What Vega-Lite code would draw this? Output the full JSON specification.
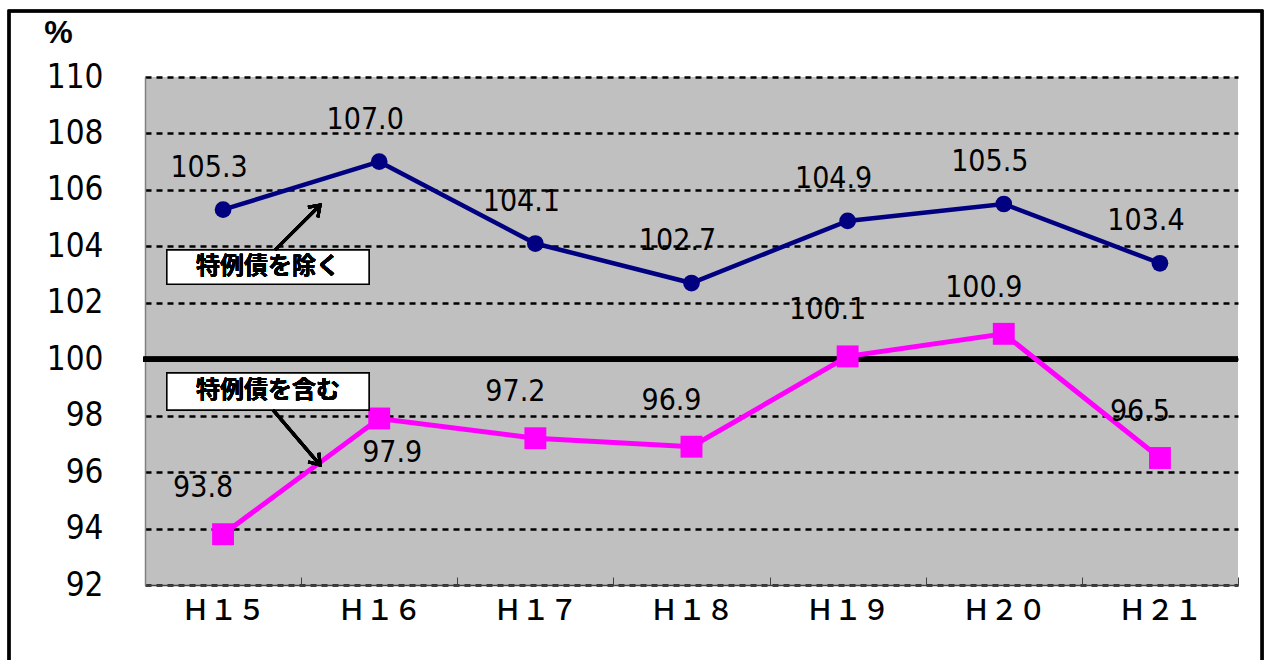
{
  "$schema": "https://vega.github.io/schema/vega-lite/v6.json",
  "width": 1093,
  "height": 508,
  "autosize": {"type": "none"},
  "padding": {"left": 145, "top": 77, "right": 26, "bottom": 75},
  "background": "white",
  "config": {
    "view": {"fill": "#C0C0C0", "stroke": null},
    "font": "DejaVu Sans Condensed, Liberation Sans, sans-serif",
    "axisY": {"gridColor": "black", "gridOpacity": 1, "gridDash": [6, 5], "gridWidth": 2.5}
  },
  "data": {
    "values": [
      {"i": 0, "year": "H15", "excl": 105.3, "incl": 93.8},
      {"i": 1, "year": "H16", "excl": 107.0, "incl": 97.9},
      {"i": 2, "year": "H17", "excl": 104.1, "incl": 97.2},
      {"i": 3, "year": "H18", "excl": 102.7, "incl": 96.9},
      {"i": 4, "year": "H19", "excl": 104.9, "incl": 100.1},
      {"i": 5, "year": "H20", "excl": 105.5, "incl": 100.9},
      {"i": 6, "year": "H21", "excl": 103.4, "incl": 96.5}
    ]
  },
  "encoding": {
    "x": {
      "field": "i",
      "type": "quantitative",
      "scale": {"domain": [-0.5, 6.5], "nice": false, "zero": false},
      "axis": {
        "title": null,
        "values": [-0.5, 0.5, 1.5, 2.5, 3.5, 4.5, 5.5, 6.5],
        "labelExpr": "datum.value < 6 ? ['Ｈ１５','Ｈ１６','Ｈ１７','Ｈ１８','Ｈ１９','Ｈ２０','Ｈ２１'][datum.value + 0.5] : ''",
        "labelOffset": 78,
        "labelFont": "Noto Sans CJK JP",
        "labelFontSize": 28,
        "labelFontWeight": 500,
        "labelColor": "black",
        "labelPadding": 20,
        "labelOverlap": false,
        "labelFlush": false,
        "labelBound": false,
        "grid": false,
        "ticks": true,
        "tickSize": -8,
        "tickColor": "#404040",
        "tickWidth": 1,
        "domainColor": "#404040",
        "domainWidth": 1.5
      }
    }
  },
  "layer": [
    {
      "mark": {"type": "rule", "strokeWidth": 5, "color": "black"},
      "encoding": {
        "x": {"datum": -0.51},
        "x2": {"datum": 6.5},
        "y": {
          "datum": 100,
          "type": "quantitative",
          "scale": {"domain": [92, 110], "nice": false, "zero": false},
          "axis": {
            "title": "%",
            "titleAngle": 0,
            "titleX": -87,
            "titleY": -28,
            "titleFont": "Liberation Sans",
            "titleFontSize": 32,
            "titleFontWeight": "bold",
            "titleAlign": "center",
            "titleColor": "black",
            "values": [92, 94, 96, 98, 100, 102, 104, 106, 108, 110],
            "labelFontSize": 33,
            "labelColor": "black",
            "labelPadding": 42,
            "ticks": false,
            "grid": true,
            "gridColor": "black",
            "gridOpacity": 1,
            "gridDash": [6, 5],
            "gridWidth": 2.5,
            "domainColor": "#808080",
            "domainWidth": 1.5
          }
        }
      }
    },
    {
      "mark": {"type": "line", "color": "#000080", "strokeWidth": 4.5},
      "encoding": {"y": {"field": "excl", "type": "quantitative"}}
    },
    {
      "mark": {"type": "point", "shape": "circle", "filled": true, "color": "#000080", "opacity": 1, "size": 280},
      "encoding": {"y": {"field": "excl", "type": "quantitative"}}
    },
    {
      "mark": {"type": "line", "color": "#FF00FF", "strokeWidth": 5},
      "encoding": {"y": {"field": "incl", "type": "quantitative"}}
    },
    {
      "mark": {"type": "point", "shape": "square", "filled": true, "color": "#FF00FF", "opacity": 1, "size": 480},
      "encoding": {"y": {"field": "incl", "type": "quantitative"}}
    },
    {
      "mark": {"type": "text", "fontSize": 30, "color": "black", "dx": -14, "dy": -42},
      "encoding": {
        "y": {"field": "excl", "type": "quantitative"},
        "text": {"field": "excl", "type": "quantitative", "format": ".1f"}
      }
    },
    {
      "transform": [{"filter": "datum.i != 1"}],
      "mark": {"type": "text", "fontSize": 30, "color": "black", "dx": -20, "dy": -46},
      "encoding": {
        "y": {"field": "incl", "type": "quantitative"},
        "text": {"field": "incl", "type": "quantitative", "format": ".1f"}
      }
    },
    {
      "transform": [{"filter": "datum.i == 1"}],
      "mark": {"type": "text", "fontSize": 30, "color": "black", "dx": 13, "dy": 35},
      "encoding": {
        "y": {"field": "incl", "type": "quantitative"},
        "text": {"field": "incl", "type": "quantitative", "format": ".1f"}
      }
    },
    {
      "mark": {"type": "rect", "fill": "white", "stroke": "black", "strokeWidth": 1.5},
      "encoding": {
        "x": {"datum": -0.36},
        "x2": {"datum": 0.935},
        "y": {"datum": 103.87},
        "y2": {"datum": 102.66}
      }
    },
    {
      "mark": {"type": "rect", "fill": "white", "stroke": "black", "strokeWidth": 1.5},
      "encoding": {
        "x": {"datum": -0.36},
        "x2": {"datum": 0.935},
        "y": {"datum": 99.51},
        "y2": {"datum": 98.2}
      }
    },
    {
      "mark": {"type": "text", "font": "Noto Sans CJK JP", "fontWeight": "bold", "fontSize": 24, "color": "black", "text": "特例債を除く"},
      "encoding": {"x": {"datum": 0.288}, "y": {"datum": 103.27}}
    },
    {
      "mark": {"type": "text", "font": "Noto Sans CJK JP", "fontWeight": "bold", "fontSize": 24, "color": "black", "text": "特例債を含む"},
      "encoding": {"x": {"datum": 0.288}, "y": {"datum": 98.86}}
    },
    {
      "mark": {"type": "rule", "color": "black", "strokeWidth": 3},
      "encoding": {
        "x": {"datum": 0.333},
        "x2": {"datum": 0.621},
        "y": {"datum": 103.87},
        "y2": {"datum": 105.46}
      }
    },
    {
      "mark": {"type": "rule", "color": "black", "strokeWidth": 3},
      "encoding": {
        "x": {"datum": 0.32},
        "x2": {"datum": 0.621},
        "y": {"datum": 98.2},
        "y2": {"datum": 96.25}
      }
    },
    {
      "mark": {"type": "point", "shape": "M -0.7 1 L 0 0 L 0.7 1", "filled": false, "stroke": "black", "strokeWidth": 3, "size": 400, "opacity": 1, "angle": 45},
      "encoding": {"x": {"datum": 0.621}, "y": {"datum": 105.46}}
    },
    {
      "mark": {"type": "point", "shape": "M -0.7 1 L 0 0 L 0.7 1", "filled": false, "stroke": "black", "strokeWidth": 3, "size": 400, "opacity": 1, "angle": 140},
      "encoding": {"x": {"datum": 0.621}, "y": {"datum": 96.25}}
    },
    {
      "mark": {"type": "rect", "fill": null, "fillOpacity": 0, "stroke": "black", "strokeWidth": 2.5},
      "encoding": {
        "x": {"datum": -1.371},
        "x2": {"datum": 6.654},
        "y": {"datum": 112.34},
        "y2": {"datum": 89.0}
      }
    }
  ]
}
